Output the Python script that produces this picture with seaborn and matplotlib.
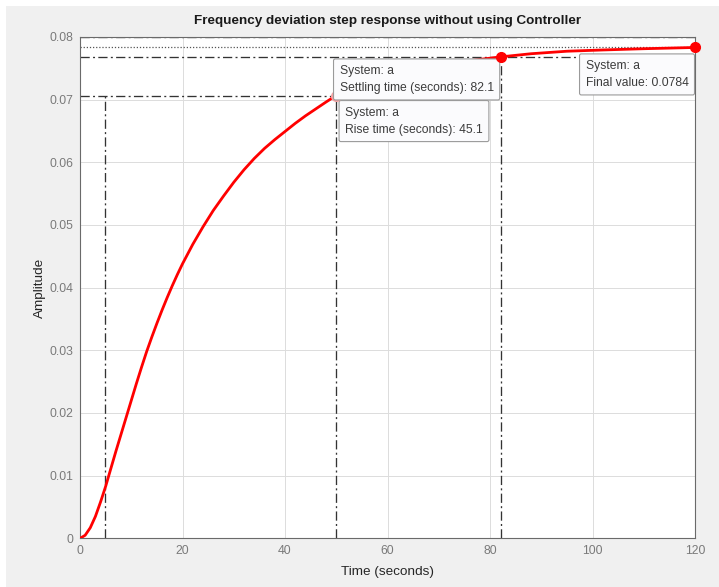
import matplotlib
matplotlib.use("Agg")
import matplotlib.pyplot as plt
from matplotlib.patches import Rectangle
import seaborn as sns
import pandas as pd

# step response
time_s = [0, 1, 2, 3, 4, 5, 6, 7, 8, 9, 10, 11, 12, 13, 14, 15, 16, 17, 18, 19,
          20, 22, 24, 26, 28, 30, 32, 34, 36, 38, 40, 42, 44, 46, 48, 49.9,
          52, 55, 58, 62, 66, 70, 75, 82.1, 88, 95, 102, 110, 120]
amplitude = [0, 0.0005, 0.0017, 0.0035, 0.0058, 0.0083, 0.0111, 0.0139, 0.0166,
             0.0193, 0.0220, 0.0247, 0.0273, 0.0298, 0.0321, 0.0343, 0.0364,
             0.0384, 0.0403, 0.0421, 0.0438, 0.0469, 0.0497, 0.0523, 0.0546,
             0.0568, 0.0588, 0.0606, 0.0622, 0.0636, 0.0649, 0.0662, 0.0674,
             0.0685, 0.0696, 0.0706, 0.0714, 0.0724, 0.0731, 0.0741, 0.0748,
             0.0755, 0.0761, 0.0768, 0.0773, 0.0777, 0.0779, 0.0781, 0.0783]

# step characteristics
final_value = 0.0784
rise_start = 4.8
rise_end = 49.9
rise_level = 0.0706
rise_time = 45.1
settling_time = 82.1
settling_level = 0.0768
band_low = 0.0768
band_high = 0.0800
t_end = 120

xticks = [0, 20, 40, 60, 80, 100, 120]
yticks = [0, 0.01, 0.02, 0.03, 0.04, 0.05, 0.06, 0.07, 0.08]
ytick_labels = ['0', '0.01', '0.02', '0.03', '0.04', '0.05', '0.06', '0.07', '0.08']

df = pd.DataFrame({'time': time_s, 'amplitude': amplitude})

sns.set_theme(style='whitegrid')
plt.rcParams['font.family'] = ['Liberation Sans', 'DejaVu Sans']

fig = plt.figure(figsize=(7.19, 5.87), dpi=100)
fig.patch.set_facecolor('#f0f0f0')
fig.patches.append(Rectangle((0, 0.99), 1, 0.01, transform=fig.transFigure,
                             facecolor='white', edgecolor='none', zorder=-1))
fig.patches.append(Rectangle((0, 0), 0.0085, 1, transform=fig.transFigure,
                             facecolor='white', edgecolor='none', zorder=-1))

ax = fig.add_axes([0.1113, 0.0828, 0.8554, 0.8545])
ax.set_facecolor('white')

# characteristic lines
dashdot = dict(color='#333333', lw=0.95, linestyle=(0, (7, 2.5, 1.5, 2.5)), zorder=2)
ax.plot([0, rise_end], [rise_level, rise_level], **dashdot)
ax.plot([rise_start, rise_start], [0, rise_level], **dashdot)
ax.plot([rise_end, rise_end], [0, rise_level], **dashdot)
ax.plot([0, t_end], [band_low, band_low], **dashdot)
ax.plot([0, t_end], [band_high, band_high], **dashdot)
ax.plot([settling_time, settling_time], [0, settling_level], **dashdot)
ax.plot([0, t_end], [final_value, final_value], color='#555555', lw=0.9,
        linestyle=(0, (1, 1.5)), zorder=2)

sns.lineplot(data=df, x='time', y='amplitude', ax=ax, color='red', lw=2, zorder=3)

# data tips
tip_box = dict(boxstyle='round,pad=0.5,rounding_size=0.15', facecolor='#fbfbfd',
               edgecolor='#9a9a9a', lw=0.8)
ax.text(0.431, 0.832, f'System: a\nRise time (seconds): {rise_time}',
        transform=ax.transAxes, ha='left', va='center', fontsize=8.7,
        color='#3c3c3c', linespacing=1.55, bbox=tip_box, zorder=5)
ax.plot([rise_end], [rise_level], 'o', color='#f5a3a3', ms=7, zorder=6, clip_on=False)
ax.text(0.422, 0.915, f'System: a\nSettling time (seconds): {settling_time}',
        transform=ax.transAxes, ha='left', va='center', fontsize=8.7,
        color='#3c3c3c', linespacing=1.55, bbox=tip_box, zorder=7)
ax.text(0.822, 0.925, f'System: a\nFinal value: {final_value}',
        transform=ax.transAxes, ha='left', va='center', fontsize=8.7,
        color='#3c3c3c', linespacing=1.55, bbox=tip_box, zorder=7)
ax.plot([settling_time, t_end], [settling_level, final_value], 'o', color='red',
        ms=7, zorder=8, clip_on=False)

ax.set_xlim(0, t_end)
ax.set_ylim(0, 0.08)
ax.set_xticks(xticks)
ax.set_yticks(yticks)
ax.set_yticklabels(ytick_labels)
ax.tick_params(direction='in', length=4, width=0.8, color='#555555',
               labelcolor='#7a7a7a', labelsize=8.8, pad=5)
ax.grid(True, color='#dcdcdc', lw=0.7)
for side in ax.spines.values():
    side.set_color('#6a6a6a')
    side.set_linewidth(0.8)

ax.set_title('Frequency deviation step response without using Controller',
             fontsize=9.7, fontweight='bold', color='#1a1a1a', pad=9)
ax.set_xlabel('Time (seconds)', fontsize=9.7, color='#262626', labelpad=6)
ax.set_ylabel('Amplitude', fontsize=9.7, color='#262626', labelpad=2)

fig.savefig('out.png', dpi=100, facecolor=fig.get_facecolor())
